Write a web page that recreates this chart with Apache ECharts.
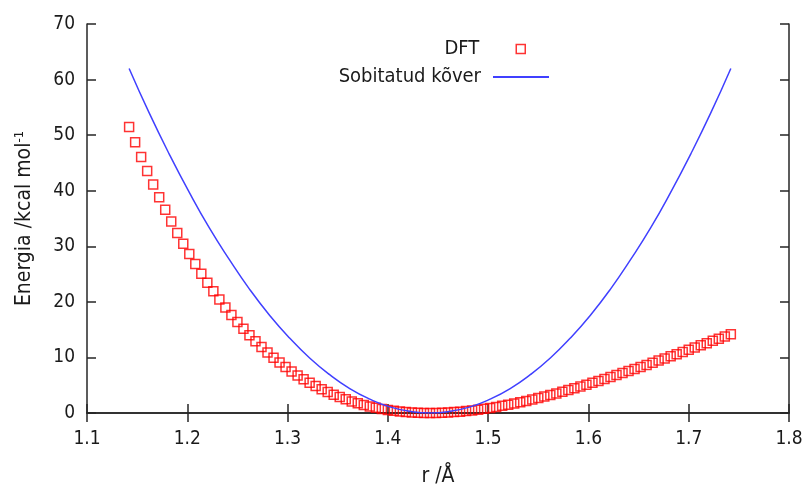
<!DOCTYPE html>
<html>
<head>
<meta charset="utf-8">
<script src="https://cdn.jsdelivr.net/npm/echarts@6/dist/echarts.min.js"></script>
<style>
html,body{margin:0;padding:0;background:#fff;}
#chart{width:806px;height:488px;}
</style>
</head>
<body>
<div id="chart"></div>
<script>
// DFT points: bond length r (Å) and energy (kcal/mol)
const dftR = [
  1.142, 1.148, 1.154, 1.160, 1.166, 1.172, 1.178, 1.184, 1.190, 1.196,
  1.202, 1.208, 1.214, 1.220, 1.226, 1.232, 1.238, 1.244, 1.250, 1.256,
  1.262, 1.268, 1.274, 1.280, 1.286, 1.292, 1.298, 1.304, 1.310, 1.316,
  1.322, 1.328, 1.334, 1.340, 1.346, 1.352, 1.358, 1.364, 1.370, 1.376,
  1.382, 1.388, 1.394, 1.400, 1.406, 1.412, 1.418, 1.424, 1.430, 1.436,
  1.442, 1.448, 1.454, 1.460, 1.466, 1.472, 1.478, 1.484, 1.490, 1.496,
  1.502, 1.508, 1.514, 1.520, 1.526, 1.532, 1.538, 1.544, 1.550, 1.556,
  1.562, 1.568, 1.574, 1.580, 1.586, 1.592, 1.598, 1.604, 1.610, 1.616,
  1.622, 1.628, 1.634, 1.640, 1.646, 1.652, 1.658, 1.664, 1.670, 1.676,
  1.682, 1.688, 1.694, 1.700, 1.706, 1.712, 1.718, 1.724, 1.730, 1.736,
  1.742
];
const dftE = [
  51.45, 48.71, 46.08, 43.56, 41.14, 38.81, 36.59, 34.45, 32.41, 30.46,
  28.59, 26.80, 25.08, 23.45, 21.90, 20.41, 19.00, 17.65, 16.37, 15.15,
  14.00, 12.90, 11.86, 10.88, 9.95, 9.08, 8.26, 7.48, 6.75, 6.07,
  5.43, 4.84, 4.28, 3.77, 3.30, 2.86, 2.46, 2.09, 1.76, 1.46,
  1.19, 0.95, 0.74, 0.56, 0.41, 0.28, 0.18, 0.10, 0.04, 0.01,
  0.00, 0.01, 0.04, 0.09, 0.16, 0.24, 0.35, 0.47, 0.60, 0.75,
  0.92, 1.10, 1.29, 1.50, 1.71, 1.94, 2.18, 2.43, 2.70, 2.96,
  3.24, 3.53, 3.83, 4.14, 4.45, 4.77, 5.09, 5.43, 5.77, 6.12,
  6.47, 6.82, 7.18, 7.54, 7.91, 8.28, 8.66, 9.04, 9.43, 9.81,
  10.20, 10.59, 10.98, 11.38, 11.78, 12.17, 12.57, 12.98, 13.37, 13.78,
  14.19
];
// Fitted curve samples
const fitR = [
  1.142, 1.162, 1.182, 1.202, 1.222, 1.242, 1.262, 1.282, 1.302, 1.322,
  1.342, 1.362, 1.382, 1.402, 1.422, 1.442, 1.462, 1.482, 1.502, 1.522,
  1.542, 1.562, 1.582, 1.602, 1.622, 1.642, 1.662, 1.682, 1.702, 1.722,
  1.742
];
const fitE = [
  62.0, 54.0, 46.6, 39.7, 33.3, 27.6, 22.3, 17.6, 13.5, 9.9,
  6.9, 4.4, 2.5, 1.1, 0.3, 0.0, 0.3, 1.1, 2.5, 4.4,
  6.9, 9.9, 13.5, 17.6, 22.3, 27.6, 33.3, 39.7, 46.6, 54.0,
  62.0
];
const seriesNames = ['DFT', 'Sobitatud kõver'];
const xTitle = 'r /Å';
const yTitle = 'Energia /kcal mol{sup|-1}';

const FONT = "'DejaVu Sans Condensed', 'DejaVu Sans', sans-serif";
const TXT = '#1a1a1a';
const AX = '#262626';

const chart = echarts.init(document.getElementById('chart'), null, {renderer: 'canvas'});

const axisLineStyle = {show: true, lineStyle: {color: AX, width: 1.5}};
const tickStyle = {show: true, inside: true, length: 9, lineStyle: {color: AX, width: 1.5}};

chart.setOption({
  animation: false,
  backgroundColor: '#fff',
  textStyle: {fontFamily: FONT},
  grid: {left: 87, right: 17, top: 24, bottom: 75, containLabel: false, outerBoundsMode: 'none'},
  legend: [
    {
      data: [seriesNames[0]],
      align: 'right', orient: 'vertical',
      right: 275, top: 34,
      itemWidth: 9, itemHeight: 9,
      icon: 'rect',
      itemStyle: {color: 'transparent', borderColor: '#ff0000', borderWidth: 1.5},
      textStyle: {fontFamily: FONT, fontSize: 20, color: TXT, padding: [0, 32, 0, 0]}
    },
    {
      data: [seriesNames[1]],
      align: 'right', orient: 'vertical',
      right: 251, top: 62,
      itemWidth: 56, itemHeight: 9,
      itemStyle: {color: 'transparent', borderWidth: 0},
      textStyle: {fontFamily: FONT, fontSize: 20, color: TXT, padding: [0, 7, 0, 0]}
    }
  ],
  xAxis: [
    {
      type: 'value', min: 1.1, max: 1.8, interval: 0.1,
      position: 'bottom',
      axisLine: axisLineStyle, axisTick: tickStyle, splitLine: {show: false},
      axisLabel: {fontFamily: FONT, fontSize: 19, color: TXT, margin: 17,
        formatter: v => v.toFixed(1)},
      name: xTitle, nameLocation: 'middle', nameGap: 53,
      nameTextStyle: {fontFamily: FONT, fontSize: 21, color: TXT}
    },
    {
      type: 'value', min: 1.1, max: 1.8, interval: 0.1,
      position: 'top',
      axisLine: axisLineStyle, axisTick: tickStyle, splitLine: {show: false},
      axisLabel: {show: false}
    }
  ],
  yAxis: [
    {
      type: 'value', min: 0, max: 70, interval: 10,
      position: 'left',
      axisLine: axisLineStyle, axisTick: tickStyle, splitLine: {show: false},
      axisLabel: {fontFamily: FONT, fontSize: 19, color: TXT, margin: 12},
      name: yTitle, nameLocation: 'middle', nameGap: 51, nameRotate: 90,
      nameTextStyle: {fontFamily: FONT, fontSize: 21, color: TXT,
        rich: {sup: {fontFamily: FONT, fontSize: 13, color: TXT, verticalAlign: 'top', padding: [0, 0, 10, 0]}}}
    },
    {
      type: 'value', min: 0, max: 70, interval: 10,
      position: 'right',
      axisLine: axisLineStyle, axisTick: tickStyle, splitLine: {show: false},
      axisLabel: {show: false}
    }
  ],
  series: [
    {
      name: seriesNames[0],
      type: 'scatter',
      xAxisIndex: 0, yAxisIndex: 0,
      symbol: 'rect', symbolSize: 9,
      clip: false,
      itemStyle: {color: 'transparent', borderColor: '#ff0000', borderWidth: 1.5},
      data: dftR.map((r, i) => [r, dftE[i]])
    },
    {
      name: seriesNames[1],
      type: 'line',
      xAxisIndex: 0, yAxisIndex: 0,
      smooth: true, showSymbol: false, symbol: 'none',
      lineStyle: {color: '#4040ff', width: 1.5},
      itemStyle: {color: '#4040ff'},
      data: fitR.map((r, i) => [r, fitE[i]])
    }
  ]
});
</script>
</body>
</html>
